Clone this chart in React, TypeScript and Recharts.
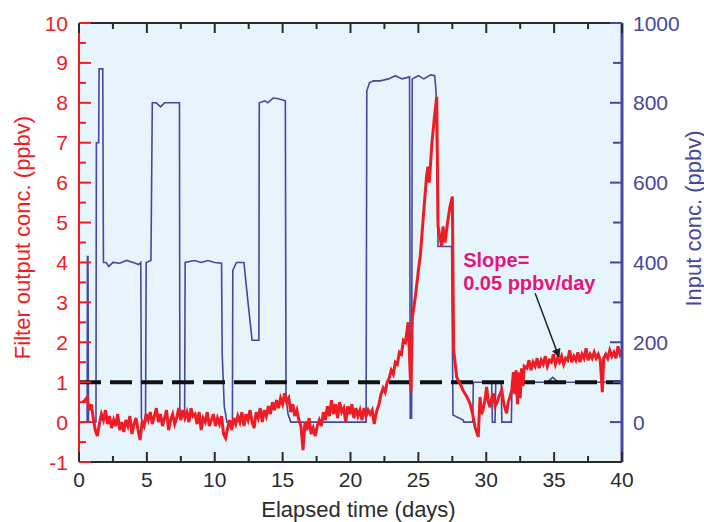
import React from 'react'
import {
  ComposedChart,
  Line,
  XAxis,
  YAxis,
  CartesianGrid,
  ReferenceLine,
  ReferenceDot,
  Label,
} from 'recharts'

const RED = '#ee1c25'
const BLUE = '#47479d'
const PINK = '#e3167e'
const INK = '#2b2b2b'

// input concentration, right axis: [day, ppbv]
const inputConc: [number, number][] = [
  [0.05, 0], [0.6, 0], [0.62, 415], [0.66, 415], [0.7, 0], [1.25, 0], [1.28, 700], [1.45, 700],
  [1.48, 885], [1.75, 885], [1.8, 400], [2.0, 400], [2.2, 390], [2.5, 400], [3.0, 398], [3.5, 405],
  [4.0, 400], [4.4, 395], [4.55, 400], [4.6, 10], [4.65, 0], [4.9, 0], [4.95, 400], [5.3, 405],
  [5.4, 800], [5.7, 800], [6.0, 790], [6.3, 800], [6.8, 800], [7.4, 800], [7.43, 15], [7.78, 15],
  [7.82, 400], [8.5, 405], [9.0, 400], [9.5, 405], [10.0, 400], [10.5, 398], [10.55, 170], [10.7, 40],
  [10.9, 0], [11.3, 0], [11.33, 380], [11.6, 400], [12.15, 400], [12.45, 300], [12.75, 205], [13.25, 205],
  [13.28, 800], [13.7, 805], [13.9, 800], [14.3, 812], [14.7, 810], [15.2, 805], [15.25, 60], [15.4, 20],
  [15.6, 0], [21.15, 0], [21.2, 830], [21.4, 850], [21.7, 855], [22.2, 855], [22.8, 860], [23.3, 868],
  [23.8, 860], [24.35, 865], [24.4, 10], [24.5, 10], [24.55, 860], [25.0, 868], [25.4, 860], [25.9, 870],
  [26.2, 868], [26.3, 830], [26.45, 440], [27.45, 440], [27.55, 18], [28.3, 5], [28.35, 0], [29.0, 0],
  [29.05, 100], [30.4, 100], [30.45, 0], [30.65, 0], [30.7, 100], [31.1, 100], [31.15, 0], [31.85, 0],
  [31.9, 100], [34.5, 100], [34.9, 112], [35.3, 100], [39.9, 100], [40, 93],
]

// filter output concentration, left axis: [day, ppbv]
const filterBaseline: [number, number][] = [
  [0.25, 0.5], [0.45, 0.55], [0.6, 0.62], [0.75, 0.3], [0.9, 0.45], [1.05, 0.1], [1.2, -0.2], [1.35, -0.35],
  [1.5, -0.05], [1.65, 0.2], [1.8, 0.05], [1.95, 0.3], [2.1, -0.05], [2.25, 0.15], [2.4, -0.15], [2.55, 0.05],
  [2.7, -0.1], [2.85, 0.2], [3.0, -0.2], [3.15, 0.0], [3.3, -0.25], [3.45, 0.05], [3.6, -0.1], [3.75, 0.15],
  [3.9, -0.3], [4.05, -0.05], [4.2, 0.1], [4.35, -0.2], [4.5, -0.45], [4.65, 0.0], [4.8, -0.1], [4.95, 0.2],
  [5.1, 0.05], [5.25, 0.25], [5.4, -0.05], [5.55, 0.15], [5.7, 0.35], [5.85, 0.0], [6.0, 0.2], [6.15, -0.1],
  [6.3, 0.1], [6.45, 0.3], [6.6, -0.2], [6.75, 0.05], [6.9, 0.2], [7.05, -0.05], [7.2, 0.1], [7.35, 0.35],
  [7.5, 0.05], [7.65, 0.3], [7.8, 0.1], [7.95, 0.25], [8.1, 0.0], [8.25, 0.35], [8.4, 0.15], [8.55, 0.2],
  [8.7, -0.05], [8.85, 0.25], [9.0, -0.2], [9.15, 0.1], [9.3, 0.0], [9.45, 0.25], [9.6, -0.1], [9.75, 0.05],
  [9.9, 0.2], [10.05, -0.1], [10.2, 0.1], [10.35, -0.05], [10.5, 0.15], [10.65, -0.3], [10.8, -0.4], [10.95, -0.15],
  [11.1, 0.05], [11.25, -0.2], [11.4, 0.1], [11.55, -0.05], [11.7, 0.15], [11.85, 0.0], [12.0, 0.25], [12.15, -0.1],
  [12.3, 0.2], [12.45, 0.05], [12.6, 0.3], [12.75, 0.0], [12.9, -0.15], [13.05, 0.25], [13.2, 0.1], [13.35, 0.35],
  [13.5, 0.0], [13.65, 0.3], [13.8, 0.15], [13.95, 0.4], [14.1, 0.2], [14.25, 0.5], [14.4, 0.3], [14.55, 0.55],
  [14.7, 0.35], [14.85, 0.6], [15.0, 0.45], [15.15, 0.72], [15.3, 0.5], [15.45, 0.6], [15.6, 0.25], [15.75, 0.45],
  [15.9, 0.15], [16.05, 0.3], [16.2, 0.05], [16.35, -0.1], [16.5, -0.7], [16.65, 0.0], [16.8, -0.2], [16.95, 0.1],
  [17.1, -0.3], [17.25, -0.15], [17.4, -0.35], [17.55, -0.1], [17.7, 0.05], [17.85, -0.1], [18.0, 0.25], [18.15, 0.05],
  [18.3, 0.4], [18.45, 0.15], [18.6, 0.55], [18.75, 0.2], [18.9, 0.45], [19.05, 0.1], [19.2, 0.5], [19.35, 0.25],
  [19.5, 0.35], [19.65, 0.0], [19.8, 0.4], [19.95, 0.2], [20.1, 0.45], [20.25, 0.1], [20.4, 0.35], [20.55, 0.15],
  [20.7, 0.3], [20.85, 0.05], [21.0, 0.35], [21.15, 0.15], [21.3, 0.3], [21.45, 0.2], [21.6, 0.3], [21.75, -0.05],
  [21.85, 0.15],
]

const filterRise: [number, number][] = [
  [21.95, 0.3], [22.1, 0.45], [22.25, 0.7], [22.4, 0.85], [22.55, 0.75], [22.7, 1.0], [22.85, 1.1], [23.0, 1.3],
  [23.15, 1.2], [23.3, 1.5], [23.45, 1.45], [23.6, 1.75], [23.75, 1.7], [23.9, 2.05], [24.05, 2.0], [24.25, 2.5],
  [24.45, 0.75], [24.55, 2.6], [24.8, 3.2], [25.0, 3.8], [25.15, 4.2], [25.4, 5.3], [25.6, 6.15], [25.7, 6.4],
  [25.8, 6.0], [26.0, 7.0], [26.2, 7.7], [26.35, 8.15], [26.45, 4.9], [26.72, 4.4], [26.81, 4.9], [26.96, 4.5],
  [27.15, 5.0], [27.33, 5.4], [27.5, 5.65], [27.6, 1.8],
]

const filterRecovery: [number, number][] = [
  [27.82, 1.13], [28.06, 0.97], [28.28, 0.8], [28.55, 0.65], [28.8, 0.47], [29.0, 0.2], [29.17, -0.12], [29.41, -0.37],
  [29.54, 0.63], [29.65, 0.2], [29.76, 0.3], [29.9, 0.55], [30.03, 0.88], [30.15, 0.5], [30.28, 0.37], [30.4, 0.6],
  [30.52, 0.72], [30.65, 0.4], [30.77, 0.47], [30.95, 0.65], [31.14, 0.8], [31.3, 0.45], [31.5, 0.22], [31.62, 0.5],
  [31.75, 0.63], [31.88, 0.8], [32.0, 1.25], [32.1, 0.7], [32.2, 1.3], [32.3, 0.45], [32.4, 1.25], [32.5, 0.6],
  [32.6, 1.35], [32.7, 0.9], [32.8, 1.4],
]

const filterSlope: [number, number][] = [
  [33.0, 1.35], [33.15, 1.55], [33.3, 1.3], [33.45, 1.5], [33.6, 1.4], [33.75, 1.6], [33.9, 1.35], [34.05, 1.55],
  [34.2, 1.45], [34.35, 1.65], [34.5, 1.4], [34.65, 1.55], [34.8, 1.5], [34.95, 1.7], [35.1, 1.45], [35.25, 1.6],
  [35.4, 1.5], [35.55, 1.65], [35.7, 1.45], [35.85, 1.6], [36.0, 1.55], [36.15, 1.8], [36.3, 1.5], [36.45, 1.65],
  [36.6, 1.55], [36.75, 1.75], [36.9, 1.5], [37.05, 1.7], [37.2, 1.6], [37.35, 1.85], [37.5, 1.55], [37.65, 1.7],
  [37.8, 1.6], [37.95, 1.75], [38.1, 1.6], [38.25, 1.7], [38.4, 1.55], [38.55, 0.75], [38.65, 1.6], [38.8, 1.7],
  [38.95, 1.6], [39.1, 1.8], [39.25, 1.65], [39.4, 1.75], [39.55, 1.6], [39.7, 1.9], [39.85, 1.7], [40.0, 1.8],
]

const dayTicks = [0, 2.5, 5, 7.5, 10, 12.5, 15, 17.5, 20, 22.5, 25, 27.5, 30, 32.5, 35, 37.5, 40]
const leftTicks = [-1, -0.5, 0, 0.5, 1, 1.5, 2, 2.5, 3, 3.5, 4, 4.5, 5, 5.5, 6, 6.5, 7, 7.5, 8, 8.5, 9, 9.5, 10]
const rightTicks = [0, 100, 200, 300, 400, 500, 600, 700, 800, 900, 1000]

const toPoints = (rows: [number, number][]) => rows.map(([d, v]) => ({ d, v }))
const inputData = toPoints(inputConc)
const filterData = toPoints([...filterBaseline, ...filterRise, ...filterRecovery, ...filterSlope])

const LeftTick = ({ x, y, payload }: any) => {
  const major = Number.isInteger(payload.value)
  return (
    <g>
      <line x1={x} x2={x + (major ? 12 : 7)} y1={y} y2={y} stroke={RED} strokeWidth={2} />
      {major && (
        <text x={x - 11} y={y + 7.5} textAnchor="end" fill={RED} fontSize={21}>
          {payload.value}
        </text>
      )}
    </g>
  )
}

const RightTick = ({ x, y, payload }: any) => {
  const major = payload.value % 200 === 0
  return (
    <g>
      <line x1={x} x2={x - (major ? 12 : 9)} y1={y} y2={y} stroke={BLUE} strokeWidth={2} />
      {major && (
        <text x={x + 11} y={y + 7.5} textAnchor="start" fill={BLUE} fontSize={21}>
          {payload.value}
        </text>
      )}
    </g>
  )
}

const BottomTick = ({ x, y, payload }: any) => {
  const major = payload.value % 5 === 0
  return (
    <g>
      <line x1={x} x2={x} y1={y} y2={y - (major ? 10 : 6)} stroke={INK} strokeWidth={2} />
      {major && (
        <text x={x} y={y + 25} textAnchor="middle" fill={INK} fontSize={21}>
          {payload.value}
        </text>
      )}
    </g>
  )
}

const TopTick = ({ x, y, payload }: any) => {
  const major = payload.value % 5 === 0
  return <line x1={x} x2={x} y1={y} y2={y + (major ? 10 : 6)} stroke={INK} strokeWidth={2} />
}

const SlopeNote = ({ cx, cy }: any) => (
  <text x={cx} y={cy} fill={PINK} fontSize={20} fontWeight="bold">
    <tspan x={cx}>Slope=</tspan>
    <tspan x={cx} dy={23}>0.05 ppbv/day</tspan>
  </text>
)

export default function App() {
  return (
    <div style={{ position: 'absolute', left: 0, top: 0, fontFamily: '"Liberation Sans", Arial, sans-serif' }}>
      <ComposedChart width={704} height={522} margin={{ top: 0, right: 0, bottom: 0, left: 0 }}>
        <defs>
          <marker id="arrowHead" viewBox="0 0 10 10" refX="9" refY="5" markerWidth="11" markerHeight="9"
            markerUnits="userSpaceOnUse" orient="auto">
            <path d="M0,0 L10,5 L0,10 z" fill="#222" />
          </marker>
        </defs>
        <CartesianGrid xAxisId="bottom" yAxisId="left" fill="#e6f4fc" stroke="none" horizontal={false} vertical={false} />
        <XAxis xAxisId="top" orientation="top" type="number" dataKey="d" domain={[0, 40]} ticks={dayTicks}
          interval={0} height={23} tickSize={0} tickMargin={0} tick={<TopTick />}
          axisLine={{ stroke: INK, strokeWidth: 2 }} allowDataOverflow />
        <XAxis xAxisId="bottom" type="number" dataKey="d" domain={[0, 40]} ticks={dayTicks}
          interval={0} height={60} tickSize={0} tickMargin={0} tick={<BottomTick />}
          axisLine={{ stroke: INK, strokeWidth: 2 }} allowDataOverflow>
          <Label content={({ viewBox }: any) => (
            <text x={viewBox.x + viewBox.width / 2 + 8} y={viewBox.y + 55} textAnchor="middle" fill={INK} fontSize={22}>
              Elapsed time (days)
            </text>
          )} />
        </XAxis>
        <YAxis yAxisId="left" type="number" domain={[-1, 10]} ticks={leftTicks} interval={0} width={79}
          tickSize={0} tickMargin={0} tick={<LeftTick />} axisLine={{ stroke: RED, strokeWidth: 2 }} allowDataOverflow>
          <Label content={({ viewBox }: any) => {
            const cx = viewBox.x + 22
            const cy = viewBox.y + viewBox.height / 2 - 5
            return (
              <text x={cx} y={cy} transform={`rotate(-90 ${cx} ${cy})`} textAnchor="middle"
                dominantBaseline="central" fill={RED} fontSize={22}>
                Filter output conc. (ppbv)
              </text>
            )
          }} />
        </YAxis>
        <YAxis yAxisId="right" orientation="right" type="number" domain={[-100, 1000]} ticks={rightTicks}
          interval={0} width={82} tickSize={0} tickMargin={0} tick={<RightTick />}
          axisLine={{ stroke: BLUE, strokeWidth: 3 }} allowDataOverflow>
          <Label content={({ viewBox }: any) => {
            const cx = viewBox.x + 71
            const cy = viewBox.y + viewBox.height / 2 - 24
            return (
              <text x={cx} y={cy} transform={`rotate(-90 ${cx} ${cy})`} textAnchor="middle"
                dominantBaseline="central" fill={BLUE} fontSize={22}>
                Input conc. (ppbv)
              </text>
            )
          }} />
        </YAxis>
        <Line xAxisId="bottom" yAxisId="right" data={inputData} dataKey="v" type="linear" stroke={BLUE}
          strokeWidth={1.6} dot={false} activeDot={false} isAnimationActive={false} />
        <ReferenceLine xAxisId="bottom" yAxisId="left" y={1} stroke="#111" strokeWidth={4} strokeDasharray="22 9" />
        <Line xAxisId="bottom" yAxisId="left" data={filterData} dataKey="v" type="linear" stroke={RED}
          strokeWidth={3} dot={false} activeDot={false} isAnimationActive={false} />
        <ReferenceLine xAxisId="bottom" yAxisId="left"
          segment={[{ x: 33.6, y: 3.23 }, { x: 35.36, y: 1.63 }]}
          stroke="#222" strokeWidth={1.5} markerEnd="url(#arrowHead)" />
        <ReferenceDot xAxisId="bottom" yAxisId="left" x={28.3} y={3.88} r={0} shape={<SlopeNote />} />
      </ComposedChart>
    </div>
  )
}
